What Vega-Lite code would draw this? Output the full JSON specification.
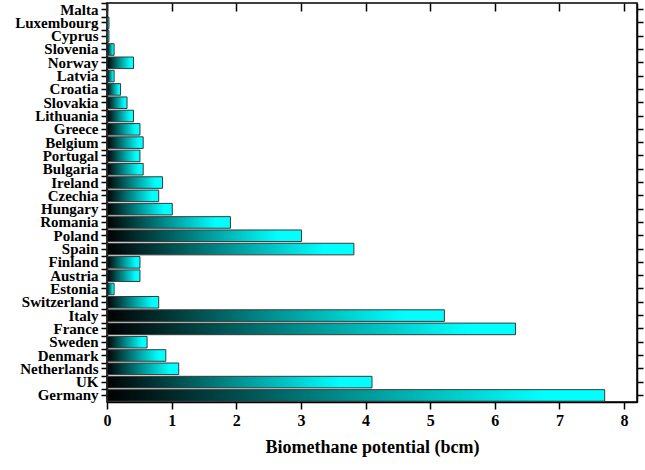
{
  "$schema": "https://vega.github.io/schema/vega-lite/v6.json",
  "width": 530,
  "height": 399,
  "autosize": "none",
  "padding": {"left": 107, "top": 3, "right": 8, "bottom": 68},
  "background": "white",
  "config": {"view": {"stroke": "black", "strokeWidth": 1.5}, "font": "Liberation Serif", "axis": {"grid": false}},
  "data": {"values": [
    {"country": "Malta", "value": 0},
    {"country": "Luxembourg", "value": 0.03},
    {"country": "Cyprus", "value": 0.03},
    {"country": "Slovenia", "value": 0.11},
    {"country": "Norway", "value": 0.41},
    {"country": "Latvia", "value": 0.11},
    {"country": "Croatia", "value": 0.21},
    {"country": "Slovakia", "value": 0.31},
    {"country": "Lithuania", "value": 0.41},
    {"country": "Greece", "value": 0.51},
    {"country": "Belgium", "value": 0.56},
    {"country": "Portugal", "value": 0.51},
    {"country": "Bulgaria", "value": 0.56},
    {"country": "Ireland", "value": 0.86},
    {"country": "Czechia", "value": 0.8},
    {"country": "Hungary", "value": 1.01},
    {"country": "Romania", "value": 1.91},
    {"country": "Poland", "value": 3.01},
    {"country": "Spain", "value": 3.82},
    {"country": "Finland", "value": 0.51},
    {"country": "Austria", "value": 0.51},
    {"country": "Estonia", "value": 0.11},
    {"country": "Switzerland", "value": 0.8},
    {"country": "Italy", "value": 5.22},
    {"country": "France", "value": 6.32},
    {"country": "Sweden", "value": 0.62},
    {"country": "Denmark", "value": 0.91},
    {"country": "Netherlands", "value": 1.11},
    {"country": "UK", "value": 4.1},
    {"country": "Germany", "value": 7.7}
  ]},
  "layer": [
    {
      "mark": {
        "type": "bar",
        "fill": {
          "gradient": "linear", "x1": 0, "x2": 1, "y1": 0, "y2": 0,
          "stops": [
            {"offset": 0, "color": "#000000"},
            {"offset": 0.5, "color": "#009494"},
            {"offset": 0.88, "color": "#00ffff"},
            {"offset": 1, "color": "#00ffff"}
          ]
        },
        "stroke": "#3a3a3a",
        "strokeWidth": 1
      },
      "encoding": {
        "y": {
          "field": "country", "type": "nominal", "sort": null,
          "scale": {"paddingInner": 0.13, "paddingOuter": 0.06},
          "axis": {
            "orient": "left", "title": null,
            "labelFont": "Liberation Serif", "labelFontWeight": "bold", "labelFontSize": 15,
            "labelColor": "black", "labelPadding": 3,
            "tickSize": 6, "tickColor": "black", "tickWidth": 1.5,
            "domainColor": "black", "domainWidth": 1.5
          }
        },
        "x": {
          "field": "value", "type": "quantitative",
          "scale": {"domain": [0, 8.2], "nice": false},
          "axis": {
            "orient": "bottom",
            "title": "Biomethane potential (bcm)",
            "titleFont": "Liberation Serif", "titleFontWeight": "bold", "titleFontSize": 18,
            "titleColor": "black", "titlePadding": 10,
            "values": [0, 0.5, 1, 1.5, 2, 2.5, 3, 3.5, 4, 4.5, 5, 5.5, 6, 6.5, 7, 7.5, 8],
            "format": "d",
            "labelExpr": "datum.value % 1 === 0 ? datum.label : ''",
            "labelFont": "Liberation Serif", "labelFontWeight": "bold", "labelFontSize": 16,
            "labelColor": "black", "labelPadding": 3, "labelOverlap": false, "labelFlush": false,
            "tickSize": {"condition": {"test": "datum.value % 1 === 0", "value": 7}, "value": 4},
            "tickColor": "black", "tickWidth": 1.5,
            "domainColor": "black", "domainWidth": 1.5
          }
        }
      }
    },
    {
      "mark": {"type": "bar", "opacity": 0},
      "encoding": {
        "y": {
          "field": "country", "type": "nominal", "sort": null,
          "axis": {
            "orient": "left", "title": null, "labels": false, "domain": false,
            "bandPosition": 0, "tickSize": 6, "tickColor": "black", "tickWidth": 1.5
          }
        },
        "x": {
          "field": "value", "type": "quantitative",
          "axis": {
            "orient": "top", "title": null, "labels": false, "domain": false,
            "values": [0, 1, 2, 3, 4, 5, 6, 7, 8],
            "tickSize": -8, "tickColor": "black", "tickWidth": 1.5
          }
        }
      }
    },
    {
      "mark": {"type": "bar", "opacity": 0},
      "encoding": {
        "y": {
          "field": "country", "type": "nominal", "sort": null,
          "axis": {
            "orient": "right", "title": null, "labels": false,
            "domainColor": "black", "domainWidth": 1.5,
            "tickSize": 6, "tickColor": "black", "tickWidth": 1.5
          }
        },
        "x": {"field": "value", "type": "quantitative", "axis": null}
      }
    }
  ],
  "resolve": {"axis": {"x": "independent", "y": "independent"}}
}
